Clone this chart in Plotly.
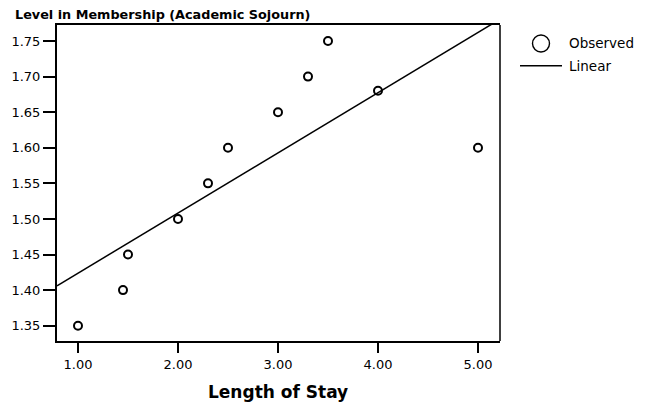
import numpy as np
import plotly.graph_objects as go

# Observed values
length_of_stay = [1.00, 1.45, 1.50, 2.00, 2.30, 2.50, 3.00, 3.30, 3.50, 4.00, 5.00]
membership_level = [1.35, 1.40, 1.45, 1.50, 1.55, 1.60, 1.65, 1.70, 1.75, 1.68, 1.60]

x_ticks = [1, 2, 3, 4, 5]
y_ticks = [1.35, 1.40, 1.45, 1.50, 1.55, 1.60, 1.65, 1.70, 1.75]

x_range = [0.79, 5.22]
y_range = [1.3285, 1.7725]

# Least-squares linear fit across the full x range
slope, intercept = np.polyfit(length_of_stay, membership_level, 1)
fit_x = np.array(x_range)
fit_y = intercept + slope * fit_x

FONT = "DejaVu Sans"
W, H = 645, 406
L, R, T, B = 57, 145, 25, 65
PW, PH = W - L - R, H - T - B


def px_x(px):
    return (px - L) / PW


def px_y(py):
    return (H - B - py) / PH


fig = go.Figure()

fig.add_trace(go.Scatter(
    x=fit_x, y=fit_y, mode="lines",
    line=dict(color="black", width=1.5),
    showlegend=False, hoverinfo="skip",
))

fig.add_trace(go.Scatter(
    x=length_of_stay, y=membership_level, mode="markers",
    marker=dict(symbol="circle-open", size=8, color="black",
                line=dict(color="black", width=2)),
    showlegend=False,
))

shapes = [
    # right edge of the frame
    dict(type="line", xref="paper", yref="paper", x0=1, x1=1, y0=0, y1=1,
         line=dict(color="black", width=1.5)),
    # legend: observed marker
    dict(type="circle", xref="paper", yref="paper",
         x0=px_x(541 - 8.5), x1=px_x(541 + 8.5),
         y0=px_y(43.5 + 8.5), y1=px_y(43.5 - 8.5),
         line=dict(color="black", width=1.4)),
    # legend: linear line
    dict(type="line", xref="paper", yref="paper",
         x0=px_x(520), x1=px_x(562), y0=px_y(65.7), y1=px_y(65.7),
         line=dict(color="black", width=1.5)),
]

annotations = [
    dict(text="<b>Level in Membership (Academic Sojourn)</b>",
         xref="paper", yref="paper", x=px_x(13), y=px_y(14.5),
         xanchor="left", yanchor="middle", showarrow=False,
         font=dict(family=FONT, size=12.8, color="black")),
    dict(text="<b>Length of Stay</b>",
         xref="paper", yref="paper", x=px_x(278), y=px_y(392),
         xanchor="center", yanchor="middle", showarrow=False,
         font=dict(family=FONT, size=17, color="black")),
    dict(text="Observed", xref="paper", yref="paper",
         x=px_x(567), y=px_y(43.5), xanchor="left", yanchor="middle",
         showarrow=False, font=dict(family=FONT, size=13.5, color="black")),
    dict(text="Linear", xref="paper", yref="paper",
         x=px_x(567), y=px_y(65.7), xanchor="left", yanchor="middle",
         showarrow=False, font=dict(family=FONT, size=13.5, color="black")),
]

fig.update_layout(
    width=W, height=H,
    margin=dict(l=L, r=R, t=T, b=B, pad=0),
    paper_bgcolor="white", plot_bgcolor="white",
    font=dict(family=FONT, size=13, color="black"),
    showlegend=False,
    shapes=shapes,
    annotations=annotations,
    xaxis=dict(
        range=x_range, tickvals=x_ticks, tickformat=".2f",
        showgrid=False, zeroline=False,
        showline=True, linecolor="black", linewidth=2, mirror=True,
        ticks="outside", ticklen=10, tickwidth=2, tickcolor="black",
        tickfont=dict(family=FONT, size=13, color="black"),
    ),
    yaxis=dict(
        range=y_range, tickvals=y_ticks, tickformat=".2f",
        showgrid=False, zeroline=False,
        showline=True, linecolor="black", linewidth=2,
        ticks="outside", ticklen=12, tickwidth=1.5, tickcolor="black",
        tickfont=dict(family=FONT, size=13, color="black"),
    ),
)

fig.write_html("out.html")
